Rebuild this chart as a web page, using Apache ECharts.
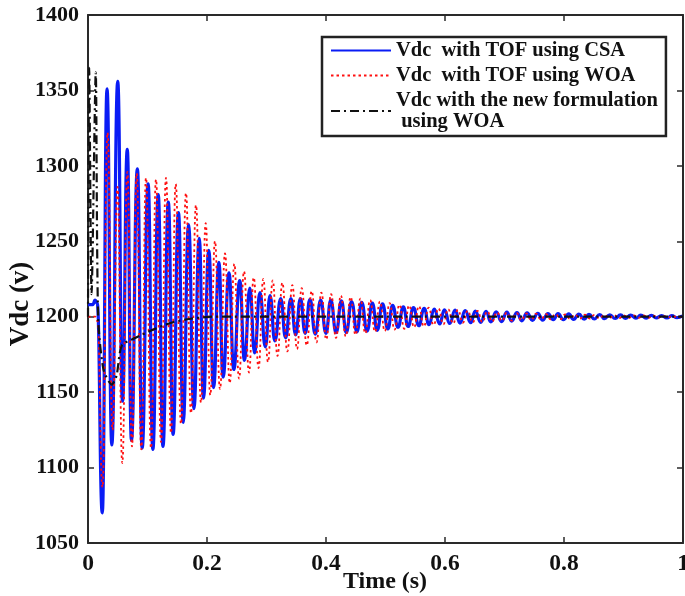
<!DOCTYPE html>
<html><head><meta charset="utf-8">
<script src="https://cdn.jsdelivr.net/npm/echarts@6/dist/echarts.min.js"></script>
<style>html,body{margin:0;padding:0;background:#fff}#c{width:685px;height:596px}</style>
</head><body><div id="c"></div>
<script>
const FONT = "'Liberation Serif','Times New Roman',serif";
const seriesNames = ['Vdc  with TOF using CSA', 'Vdc  with TOF using WOA', 'Vdc with the new formulation\n using WOA'];
const xAxisTitle = 'Time (s)';
const yAxisTitle = 'Vdc (v)';
const xRange = [0, 1, 0.2];
const yRange = [1050, 1400, 50];

// [time (s), Vdc (V)] — extrema
const blueCSA = [
[0,1208],[0.008,1208],[0.012,1211],[0.0155,1209],[0.024,1070],[0.032,1351],[0.040,1115],[0.050,1356],[0.058,1144],[0.066,1311],
[0.073,1118],[0.083,1298],[0.091,1113],[0.101,1288],[0.109,1112],[0.118,1281],[0.126,1114],[0.135,1276],[0.143,1122],[0.152,1269],
[0.160,1130],[0.169,1261],[0.178,1139],[0.187,1252],[0.194,1146],[0.203,1244],[0.211,1153],[0.220,1236],[0.227,1160],[0.237,1229],
[0.245,1165],[0.255,1224],[0.263,1171],[0.272,1219],[0.280,1176],[0.289,1216],[0.298,1180],[0.306,1214],[0.314,1184],[0.324,1212],
[0.332,1186],[0.341,1212],[0.349,1188],[0.357,1212],[0.365,1189],[0.373,1211.5],[0.382,1188.5],[0.391,1211],[0.400,1189],[0.408,1211],
[0.417,1189.5],[0.426,1210.5],[0.434,1189.5],[0.443,1210],[0.452,1190],[0.460,1209.5],[0.469,1190.5],[0.478,1209],[0.486,1191],[0.495,1208.5],
[0.504,1192],[0.512,1207.5],[0.521,1193],[0.530,1206.5],[0.538,1193.5],[0.547,1206],[0.556,1194],[0.565,1205.5],[0.573,1194.8],[0.582,1205],
[0.591,1195.2],[0.599,1204.6],[0.608,1195.5],[0.617,1204.4],[0.625,1195.8],[0.634,1204],[0.643,1196],[0.651,1203.8],[0.660,1196.3],[0.669,1203.6],
[0.677,1196.6],[0.686,1203.3],[0.695,1196.8],[0.704,1203],[0.712,1197.1],[0.721,1202.8],[0.729,1197.3],[0.738,1202.6],[0.747,1197.6],[0.756,1202.3],
[0.764,1197.8],[0.773,1202.1],[0.782,1198],[0.790,1202],[0.799,1198.1],[0.808,1201.9],[0.816,1198.2],[0.825,1201.7],[0.834,1198.4],[0.842,1201.6],
[0.851,1198.5],[0.860,1201.4],[0.868,1198.7],[0.877,1201.3],[0.886,1198.8],[0.895,1201.2],[0.903,1198.9],[0.912,1201.1],[0.921,1199],[0.929,1201],
[0.938,1199.1],[0.947,1200.9],[0.955,1199.2],[0.964,1200.8],[0.973,1199.2],[0.981,1200.7],[0.990,1199.3],[0.999,1200.6]
];
const redWOA = [
[0,1200],[0.012,1200],[0.016,1197],[0.0244,1087],[0.0328,1322],[0.0412,1125],[0.0496,1286],[0.0576,1103],[0.0661,1296],[0.0739,1114],
[0.0818,1295],[0.0896,1112],[0.0975,1292],[0.1059,1113],[0.1143,1291],[0.1227,1117],[0.1311,1292],[0.1395,1123],[0.1474,1288],[0.1563,1129],
[0.1647,1282],[0.1731,1136],[0.1815,1274],[0.1899,1143],[0.1978,1262],[0.2055,1148],[0.2134,1250],[0.2218,1152],[0.2303,1242],[0.2382,1156],
[0.2459,1235],[0.2538,1159],[0.2622,1230],[0.2706,1163],[0.2785,1226],[0.2866,1166],[0.2946,1225],[0.3025,1170],[0.3104,1224],[0.3185,1174],
[0.3266,1222.5],[0.3350,1177],[0.3434,1221],[0.3513,1178.5],[0.3592,1219],[0.3676,1181],[0.3760,1217],[0.3840,1183],[0.3922,1216],[0.4004,1185],
[0.4086,1215],[0.4168,1186],[0.4250,1214],[0.4332,1187],[0.4414,1213],[0.4496,1188],[0.4578,1212],[0.4660,1189],[0.4742,1211],[0.4824,1190],
[0.4906,1210],[0.4988,1190.5],[0.5070,1209],[0.5152,1191.5],[0.5234,1208],[0.5316,1192],[0.5398,1207.5],[0.5480,1193],[0.5562,1207],[0.5644,1193.5],
[0.5726,1206],[0.5808,1194.5],[0.5890,1205.5],[0.5972,1195],[0.6054,1205],[0.6136,1195.5],[0.6218,1204.5],[0.6300,1196],[0.6382,1204],[0.6464,1196.2],
[0.6546,1203.8],[0.6628,1196.5],[0.6710,1203.5],[0.6792,1196.8],[0.6874,1203],[0.6956,1197.2],[0.7038,1202.7],[0.7120,1197.4],[0.7202,1202.5],[0.7284,1197.7],
[0.7366,1202.2],[0.7448,1197.9],[0.7530,1202],[0.7612,1198.1],[0.7694,1201.8],[0.7776,1198.3],[0.7858,1201.7],[0.7940,1198.4],[0.8022,1201.5],[0.8104,1198.6],
[0.8186,1201.4],[0.8268,1198.7],[0.8350,1201.3],[0.8432,1198.8],[0.8514,1201.2],[0.8596,1198.9],[0.8678,1201.1],[0.8760,1199],[0.8842,1201],[0.8924,1199],
[0.9006,1200.9],[0.9088,1199.1],[0.9170,1200.9],[0.9252,1199.2],[0.9334,1200.8],[0.9416,1199.2],[0.9498,1200.7],[0.9580,1199.3],[0.9662,1200.6],[0.9744,1199.4],
[0.9826,1200.6],[0.9908,1199.5],[0.9990,1200.5]
];
const blackNew = [
[0,1200],[0.002,1365],[0.006,1215],[0.013,1362],[0.017,1200],[0.026,1165],[0.040,1155],[0.048,1161],[0.057,1181],
[0.080,1186],[0.107,1191],[0.140,1196],[0.170,1198.5],[0.210,1200],[0.5,1200],[1,1200]
];

const axisColor = '#2a2a2a';
const plainNum = v => String(v);
function makeX(pos, show) {
  return {type: 'value', position: pos, min: xRange[0], max: xRange[1], interval: xRange[2],
    axisLine: {show: true, onZero: false, lineStyle: {color: axisColor, width: 2}},
    axisTick: {show: true, inside: true, length: 6, lineStyle: {color: axisColor, width: 1.5}},
    axisLabel: {show: show, margin: 9, formatter: plainNum, fontFamily: FONT, fontWeight: 'bold', fontSize: 23.5, color: '#111'},
    splitLine: {show: false}};
}
function makeY(pos, show) {
  return {type: 'value', position: pos, min: yRange[0], max: yRange[1], interval: yRange[2],
    axisLine: {show: true, onZero: false, lineStyle: {color: axisColor, width: 2}},
    axisTick: {show: true, inside: true, length: 6, lineStyle: {color: axisColor, width: 1.5}},
    axisLabel: {show: show, margin: 9, formatter: plainNum, fontFamily: FONT, fontWeight: 'bold', fontSize: 22, color: '#111'},
    splitLine: {show: false}};
}

const chart = echarts.init(document.getElementById('c'), null, {renderer: 'canvas'});
chart.setOption({
  animation: false,
  backgroundColor: '#fff',
  grid: {left: 88, right: 2, top: 15, bottom: 53, containLabel: false, outerBoundsMode: 'none'},
  xAxis: [makeX('bottom', true), makeX('top', false)],
  yAxis: [makeY('left', true), makeY('right', false)],
  graphic: [
    {type: 'text', x: 385, y: 582, z: 10,
     style: {text: xAxisTitle, font: "bold 24px 'Liberation Serif', serif", fill: '#111', align: 'center', verticalAlign: 'middle'}},
    {type: 'text', x: 21, y: 304, rotation: Math.PI / 2, z: 10,
     style: {text: yAxisTitle, font: "bold 27px 'Liberation Serif', serif", fill: '#111', align: 'center', verticalAlign: 'middle'}}
  ],
  legend: {
    left: 322, top: 37, orient: 'vertical',
    padding: [3, 8, 4, 8], itemWidth: 60, itemHeight: 12, itemGap: 4,
    borderColor: '#222', borderWidth: 2.5, backgroundColor: '#fff',
    itemStyle: {opacity: 0},
    textStyle: {fontFamily: FONT, fontWeight: 'bold', fontSize: 20.5, lineHeight: 21, color: '#111'},
    data: seriesNames
  },
  series: [
    {name: seriesNames[0], type: 'line', data: blueCSA, symbol: 'none', smooth: 0.5, smoothMonotone: 'x',
     lineStyle: {color: '#0a1cf5', width: 3.2}, itemStyle: {color: '#0a1cf5'}, z: 2},
    {name: seriesNames[1], type: 'line', data: redWOA, symbol: 'none', smooth: 0.5, smoothMonotone: 'x',
     lineStyle: {color: '#ff1010', width: 1.8, type: [2.5, 3]}, itemStyle: {color: '#ff1010'}, z: 3},
    {name: seriesNames[2], type: 'line', data: blackNew, symbol: 'none', smooth: 0.25,
     lineStyle: {color: '#111', width: 2.2, type: [9, 4, 2, 4]}, itemStyle: {color: '#111'}, z: 4}
  ]
});
</script></body></html>
